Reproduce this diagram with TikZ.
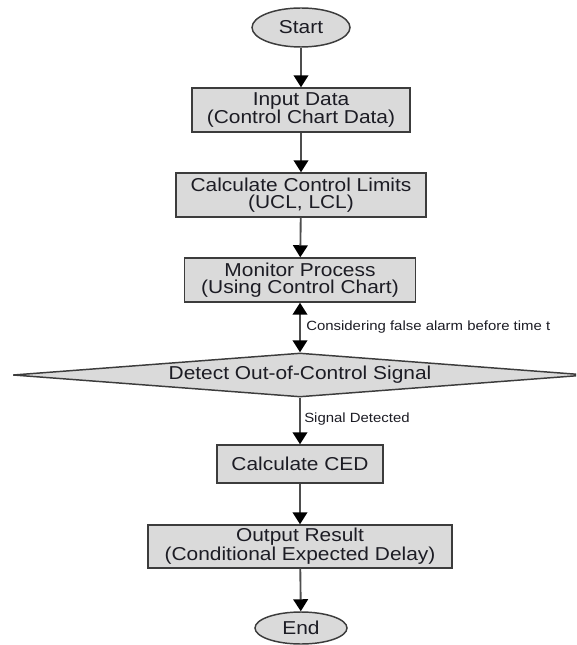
\documentclass[tikz,border=0pt]{standalone}
\usepackage{fontspec}
\setmainfont[FakeStretch=1.12]{Liberation Sans}
\usetikzlibrary{shapes.geometric,arrows.meta}
\definecolor{boxfill}{HTML}{DADADA}
\definecolor{boxline}{HTML}{3C3C3C}
\definecolor{arrline}{HTML}{4E4E4E}
\definecolor{txt}{HTML}{1C1C24}
\begin{document}
\begin{tikzpicture}[x=0.75pt,y=-0.75pt,
  mainfont/.style={font=\fontsize{14}{13}\selectfont},
  procbox/.style={draw=boxline, fill=boxfill, line width=1.1pt, rectangle,
    inner sep=0pt, text=txt, align=center, mainfont},
  term/.style={draw=boxline, fill=boxfill, line width=1.1pt, ellipse,
    inner sep=0pt, text=txt, mainfont},
  decision/.style={draw=boxline, fill=boxfill, line width=1.1pt, diamond,
    aspect=13, inner sep=0pt, text=txt, mainfont},
  arr/.style={draw=arrline, line width=1.4pt,
    -{Triangle[length=9pt,width=11pt,color=black]}},
  arrboth/.style={draw=arrline, line width=1.4pt,
    {Triangle[length=9pt,width=11pt,color=black]}-{Triangle[length=9pt,width=11pt,color=black]}},
  lbl/.style={font=\fontsize{10}{12}\selectfont, text=txt, inner sep=1pt}
]
\useasboundingbox (0,0) rectangle (576,645);
\clip (0,0) rectangle (576,645);

\node[term, minimum width=73.5pt, minimum height=29.25pt] (start) at (301,27.5) {Start};
\node[procbox, minimum width=163.5pt, minimum height=33pt] (input) at (301,110) {Input Data\\(Control Chart Data)};
\node[procbox, minimum width=187.5pt, minimum height=33pt] (limits) at (301,195) {Calculate Control Limits\\(UCL, LCL)};
\node[procbox, minimum width=173.25pt, minimum height=33pt] (monitor) at (300,280) {Monitor Process\\(Using Control Chart)};
\node[decision, minimum width=430.5pt, minimum height=33pt] (detect) at (300,375) {Detect Out-of-Control Signal};
\node[procbox, minimum width=124.5pt, minimum height=28.5pt] (ced) at (300,464) {Calculate CED};
\node[procbox, minimum width=228pt, minimum height=32.25pt] (output) at (300,546.5) {Output Result\\(Conditional Expected Delay)};
\node[term, minimum width=69pt, minimum height=24pt] (end) at (301,628) {End};

\draw[arr] (start) -- (input);
\draw[arr] (input) -- (limits);
\draw[arr] (limits) -- (monitor);
\draw[arrboth] (monitor.south) -- node[lbl, anchor=west, xshift=3pt] {Considering false alarm before time t} (detect.north);
\draw[arr] (detect.south) -- node[lbl, anchor=west, pos=0.45, xshift=1.5pt] {Signal Detected} (ced);
\draw[arr] (ced) -- (output);
\draw[arr] (output) -- (end);
\end{tikzpicture}
\end{document}
